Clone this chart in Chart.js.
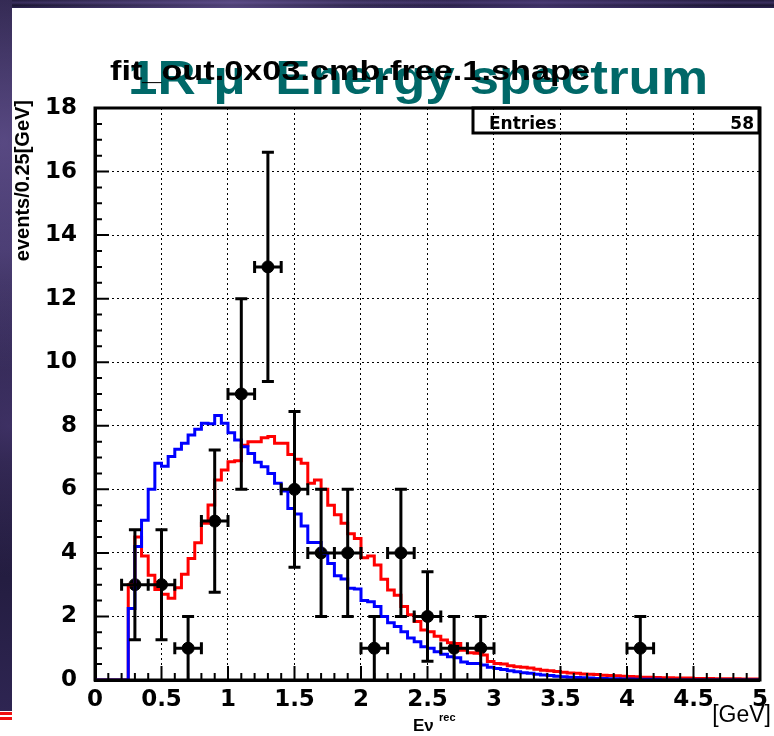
<!DOCTYPE html>
<html>
<head>
<meta charset="utf-8">
<title>1R-mu Energy spectrum</title>
<script src="https://cdn.jsdelivr.net/npm/chart.js@4.4.1/dist/chart.umd.min.js"></script>
<style>
  html, body { margin: 0; padding: 0; background: #fff; }
  #page { position: relative; width: 774px; height: 736px; overflow: hidden; background: #fff; }
  .space {
    position: absolute;
    background:
      radial-gradient(circle at 30% 20%, rgba(120, 100, 170, 0.55) 0, rgba(0, 0, 0, 0) 40%),
      radial-gradient(circle at 70% 60%, rgba(90, 70, 140, 0.5) 0, rgba(0, 0, 0, 0) 35%),
      linear-gradient(180deg, #231c3e 0%, #3b3060 35%, #1b1632 65%, #2e2552 100%);
  }
  #topBand { left: 0; top: 0; width: 774px; height: 8px; }
  #leftBand { left: 0; top: 0; width: 12px; height: 711px; }
  .stripe { position: absolute; left: 0; width: 12px; height: 3px; background: #f01010; }
  #chart { position: absolute; left: 0; top: 0; }
</style>
</head>
<body>
<div id="page">
  <div class="space" id="topBand"></div>
  <div class="space" id="leftBand"></div>
  <div class="stripe" style="top:712px"></div>
  <div class="stripe" style="top:717px"></div>
  <canvas id="chart" width="774" height="736"></canvas>
</div>
<script>
// histogram binning (GeV)
const binWidth = 0.05;
const nBins = 100;

// blue MC histogram, events per bin, bins 0.00-0.05 ... 4.95-5.00
const blueBins = [
  0, 0, 0, 0, 0, 2.25, 4.2, 5.03, 6.0, 6.82,
  6.73, 7.03, 7.26, 7.45, 7.71, 7.89, 8.08, 8.06, 8.32, 8.08,
  7.78, 7.55, 7.34, 7.13, 6.85, 6.71, 6.5, 6.19, 5.95, 5.4,
  5.22, 4.85, 4.33, 4.33, 3.99, 3.67, 3.28, 3.18, 2.89, 2.86,
  2.5, 2.46, 2.31, 2.0, 1.8, 1.68, 1.52, 1.32, 1.2, 1.05,
  1.0, 0.89, 0.81, 0.73, 0.7, 0.57, 0.52, 0.52, 0.47, 0.4,
  0.36, 0.33, 0.29, 0.26, 0.23, 0.21, 0.18, 0.16, 0.14, 0.12,
  0.1, 0.09, 0.08, 0.07, 0.06, 0.05, 0.05, 0.04, 0.04, 0.03,
  0.03, 0.02, 0.02, 0.02, 0.02, 0, 0, 0, 0, 0,
  0, 0, 0, 0, 0, 0, 0, 0, 0, 0
];

// red best-fit histogram
const redBins = [
  0, 0, 0, 0, 0, 3.0, 4.5, 3.9, 3.3, 2.85,
  2.7, 2.57, 2.9, 3.33, 3.82, 4.32, 4.93, 5.51, 6.29, 6.61,
  6.87, 6.9, 7.39, 7.5, 7.5, 7.62, 7.66, 7.45, 7.45, 7.1,
  6.95, 6.82, 6.19, 6.29, 6.0, 5.5, 5.2, 4.93, 4.6, 4.45,
  3.85, 3.9, 3.62, 3.17, 2.83, 2.67, 2.31, 2.05, 1.84, 1.57,
  1.52, 1.38, 1.26, 1.17, 1.15, 0.94, 0.86, 0.84, 0.79, 0.58,
  0.52, 0.5, 0.45, 0.42, 0.4, 0.38, 0.34, 0.31, 0.29, 0.27,
  0.24, 0.22, 0.21, 0.19, 0.18, 0.17, 0.15, 0.14, 0.13, 0.12,
  0.11, 0.1, 0.09, 0.09, 0.08, 0.07, 0.07, 0.06, 0.06, 0.06,
  0.05, 0.05, 0.05, 0.04, 0.04, 0.04, 0.04, 0.03, 0.03, 0.03
];

// observed events with errors
const dataX    = [0.3, 0.5, 0.7, 0.9, 1.1, 1.3, 1.5, 1.7, 1.9, 2.1, 2.3, 2.5, 2.7, 2.9, 4.1];
const dataY    = [3, 3, 1, 5, 9, 13, 6, 4, 4, 1, 4, 2, 1, 1, 1];
const dataErrY = [1.73, 1.73, 1, 2.24, 3, 3.61, 2.45, 2, 2, 1, 2, 1.41, 1, 1, 1];
const dataErrX = [0.1, 0.1, 0.1, 0.1, 0.1, 0.1, 0.1, 0.1, 0.1, 0.1, 0.1, 0.1, 0.1, 0.1, 0.1];

// axis ranges / ticks
const xMin = 0, xMax = 5, xStep = 0.5, xMinorDiv = 5;
const yMin = 0, yMax = 18, yStep = 2, yMinorDiv = 4;

const titleMain = 'fit_out.0x03.cmb.free.1.shape';
const titleSlide = '1R-\u03bc  Energy spectrum';
const yTitle = 'events/0.25[GeV]';

function histPoints(bins) {
    const pts = bins.map((v, i) => ({ x: i * binWidth, y: v }));
    pts.push({ x: nBins * binWidth, y: bins[nBins - 1] });
    return pts;
}

function drawStretched(ctx, text, x, y, font, width) {
    ctx.font = font;
    const w = ctx.measureText(text).width;
    ctx.save();
    ctx.translate(x, y);
    ctx.scale(width / w, 1);
    ctx.fillText(text, 0, 0);
    ctx.restore();
}

const errorBars = {
    id: 'errorBars',
    afterDatasetsDraw(chart) {
        const { ctx, scales: { x, y } } = chart;
        ctx.save();
        ctx.strokeStyle = '#000';
        ctx.lineWidth = 3;
        ctx.beginPath();
        dataX.forEach((xv, i) => {
            const px = x.getPixelForValue(xv);
            const py = y.getPixelForValue(dataY[i]);
            const top = y.getPixelForValue(dataY[i] + dataErrY[i]);
            const bot = y.getPixelForValue(Math.max(dataY[i] - dataErrY[i], 0));
            const l = x.getPixelForValue(xv - dataErrX[i]);
            const r = x.getPixelForValue(xv + dataErrX[i]);
            ctx.moveTo(px, top); ctx.lineTo(px, bot);
            ctx.moveTo(px - 6, top); ctx.lineTo(px + 6, top);
            if (dataY[i] - dataErrY[i] > 0) { ctx.moveTo(px - 6, bot); ctx.lineTo(px + 6, bot); }
            ctx.moveTo(l, py); ctx.lineTo(r, py);
            ctx.moveTo(l, py - 6); ctx.lineTo(l, py + 6);
            ctx.moveTo(r, py - 6); ctx.lineTo(r, py + 6);
        });
        ctx.stroke();
        ctx.restore();
    }
};

const frameAndText = {
    id: 'frameAndText',
    afterDraw(chart) {
        const { ctx, chartArea: a, scales: { x, y } } = chart;
        ctx.save();

        // inward tick marks (ROOT style)
        ctx.strokeStyle = '#000';
        ctx.lineWidth = 2;
        ctx.beginPath();
        const nx = Math.round((xMax - xMin) / xStep) * xMinorDiv;
        for (let i = 0; i <= nx; i++) {
            const px = x.getPixelForValue(xMin + i * xStep / xMinorDiv);
            const len = i % xMinorDiv === 0 ? 14 : 7;
            ctx.moveTo(px, a.bottom); ctx.lineTo(px, a.bottom - len);
        }
        const ny = Math.round((yMax - yMin) / yStep) * yMinorDiv;
        for (let i = 0; i <= ny; i++) {
            const py = y.getPixelForValue(yMin + i * yStep / yMinorDiv);
            const len = i % yMinorDiv === 0 ? 14 : 7;
            ctx.moveTo(a.left, py); ctx.lineTo(a.left + len, py);
        }
        ctx.stroke();

        // frame
        ctx.lineWidth = 3;
        ctx.strokeRect(a.left, a.top, a.right - a.left, a.bottom - a.top);

        // stats box
        ctx.lineWidth = 3;
        ctx.strokeRect(473, a.top, a.right - 1 - 473, 25);
        ctx.fillStyle = '#000';
        ctx.font = 'bold 17px "DejaVu Sans"';
        ctx.textBaseline = 'alphabetic';
        ctx.textAlign = 'left';
        ctx.fillText('Entries', 489, 129);
        ctx.textAlign = 'right';
        const entries = dataY.reduce((s, v) => s + v, 0);
        ctx.fillText(String(entries), 754, 129);

        // titles
        ctx.textAlign = 'left';
        ctx.fillStyle = '#006868';
        drawStretched(ctx, titleSlide, 128, 94, 'bold 48px "Liberation Sans"', 580);
        ctx.fillStyle = '#000';
        drawStretched(ctx, titleMain, 110, 80, 'bold 28px "Liberation Sans"', 480);

        // y title
        ctx.save();
        ctx.translate(29, 100);
        ctx.rotate(-Math.PI / 2);
        ctx.textAlign = 'right';
        ctx.font = 'bold 20px "Liberation Sans"';
        ctx.fillText(yTitle, 0, 0);
        ctx.restore();

        // x title
        ctx.textAlign = 'left';
        ctx.font = 'bold 17px "Liberation Sans"';
        ctx.fillText('E\u03bd', 413, 731);
        ctx.font = 'bold 11px "Liberation Sans"';
        ctx.fillText('rec', 439, 721);
        ctx.textAlign = 'right';
        ctx.font = '23px "Liberation Sans"';
        ctx.fillText('[GeV]', 771, 722);

        ctx.restore();
    }
};

const tickFont = { family: '"DejaVu Sans"', size: 23, weight: 'bold' };

new Chart(document.getElementById('chart').getContext('2d'), {
    type: 'line',
    data: {
        datasets: [
            {
                label: 'blue',
                data: histPoints(blueBins),
                borderColor: '#0000ff',
                borderWidth: 3,
                stepped: true,
                pointRadius: 0,
                fill: false
            },
            {
                label: 'red',
                data: histPoints(redBins),
                borderColor: '#ff0000',
                borderWidth: 3,
                stepped: true,
                pointRadius: 0,
                fill: false
            },
            {
                type: 'scatter',
                label: 'data',
                data: dataX.map((xv, i) => ({ x: xv, y: dataY[i] })),
                backgroundColor: '#000',
                borderColor: '#000',
                pointRadius: 6,
                showLine: false
            }
        ]
    },
    options: {
        responsive: false,
        animation: false,
        layout: { padding: { top: 108, right: 7, left: 0, bottom: 0 } },
        plugins: {
            legend: { display: false },
            tooltip: { enabled: false },
            title: { display: false }
        },
        scales: {
            x: {
                type: 'linear',
                min: xMin,
                max: xMax,
                ticks: {
                    stepSize: xStep,
                    color: '#000',
                    font: tickFont,
                    padding: 6,
                    maxRotation: 0,
                    callback: v => String(v)
                },
                grid: { color: '#000', lineWidth: 1, drawTicks: false },
                border: { color: '#000', width: 3, dash: [2, 3] },
                afterFit(scale) { scale.height = 56; }
            },
            y: {
                min: yMin,
                max: yMax,
                ticks: {
                    stepSize: yStep,
                    color: '#000',
                    font: tickFont,
                    padding: 18
                },
                grid: { color: '#000', lineWidth: 1, drawTicks: false },
                border: { color: '#000', width: 3, dash: [2, 3] },
                afterFit(scale) { scale.width = 95; }
            }
        }
    },
    plugins: [errorBars, frameAndText]
});
</script>
</body>
</html>
